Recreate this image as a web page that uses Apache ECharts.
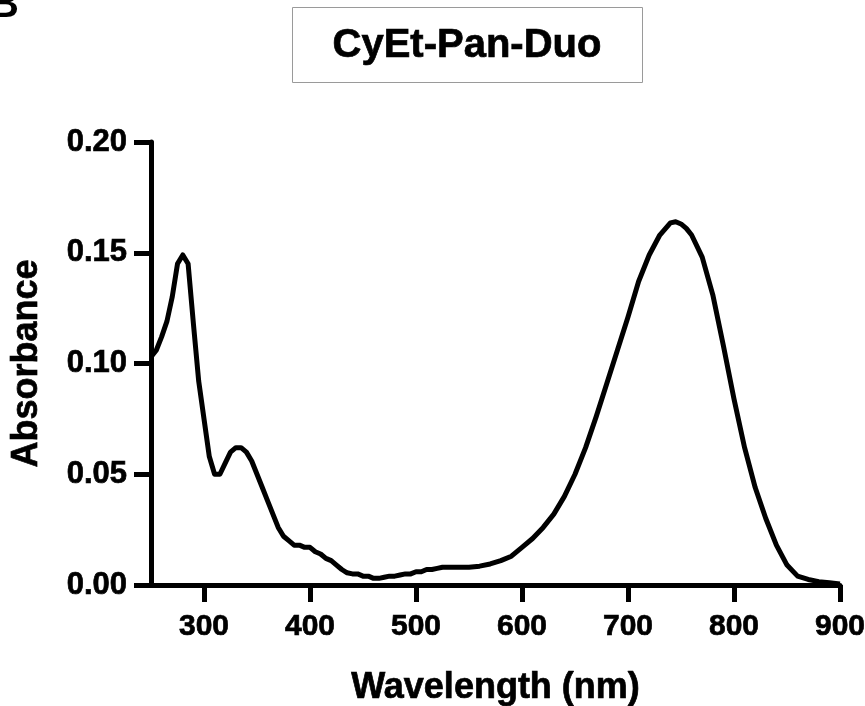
<!DOCTYPE html>
<html>
<head>
<meta charset="utf-8">
<script src="https://cdn.jsdelivr.net/npm/echarts@6/dist/echarts.min.js"></script>
<style>html,body{margin:0;padding:0;background:#fff}#c{width:865px;height:706px}</style>
</head>
<body>
<div id="c"></div>
<script>
const wavelengths = [250,255,260,265,270,275,280,285,290,295,300,305,310,315,320,325,330,335,340,345,350,355,360,365,370,375,380,385,390,395,400,405,410,415,420,425,430,435,440,445,450,455,460,465,470,475,480,485,490,495,500,505,510,515,520,525,530,540,550,560,570,580,590,600,610,620,630,640,650,660,670,680,690,700,710,720,730,740,745,750,755,760,770,780,790,800,810,820,830,840,850,860,870,880,890,900];
const absorbance = [0.103,0.106,0.112,0.119,0.130,0.145,0.149,0.145,0.118,0.092,0.075,0.058,0.050,0.050,0.055,0.060,0.062,0.062,0.060,0.056,0.050,0.044,0.038,0.032,0.026,0.022,0.020,0.018,0.018,0.017,0.017,0.015,0.014,0.012,0.011,0.009,0.007,0.0055,0.005,0.005,0.004,0.004,0.003,0.003,0.0035,0.004,0.004,0.0045,0.005,0.005,0.006,0.006,0.007,0.007,0.0075,0.008,0.008,0.008,0.008,0.0085,0.0095,0.011,0.013,0.017,0.021,0.026,0.032,0.040,0.050,0.062,0.076,0.091,0.106,0.121,0.137,0.149,0.158,0.1635,0.164,0.163,0.161,0.158,0.148,0.131,0.108,0.084,0.062,0.044,0.030,0.018,0.009,0.004,0.0025,0.0015,0.001,0.0005];
const xTicks = [300,400,500,600,700,800,900];
const yTicks = [0,0.05,0.10,0.15,0.20];
const titleText = 'CyEt-Pan-Duo';
const xTitle = 'Wavelength (nm)';
const yTitle = 'Absorbance';
const panelLabel = 'B';

const FONT = 'Liberation Sans, Arial, sans-serif';
const chart = echarts.init(document.getElementById('c'), null, {renderer: 'canvas'});
const heavy = {textBorderColor: '#000', textBorderWidth: 0.7};
chart.setOption({
  animation: false,
  backgroundColor: '#fff',
  grid: {left: 151, right: 25, top: 142, bottom: 121, containLabel: false, outerBoundsMode: 'none'},
  xAxis: {
    type: 'value', min: 250, max: 900,
    axisLine: {show: true, onZero: false, lineStyle: {color: '#000', width: 5}},
    axisTick: {show: true, length: 17, inside: false, lineStyle: {color: '#000', width: 5}, customValues: xTicks},
    axisLabel: Object.assign({customValues: xTicks, color: '#000', fontFamily: FONT, fontWeight: 'bold', fontSize: 30, margin: 27}, heavy),
    splitLine: {show: false},
    name: xTitle, nameLocation: 'middle', nameGap: 85,
    nameTextStyle: Object.assign({color: '#000', fontFamily: FONT, fontWeight: 'bold', fontSize: 36}, heavy)
  },
  yAxis: {
    type: 'value', min: 0, max: 0.2, interval: 0.05,
    axisLine: {show: true, onZero: false, lineStyle: {color: '#000', width: 5}},
    axisTick: {show: true, length: 17, lineStyle: {color: '#000', width: 5}, customValues: yTicks},
    axisLabel: Object.assign({customValues: yTicks, color: '#000', fontFamily: FONT, fontWeight: 'bold', fontSize: 31, margin: 24,
      formatter: v => v.toFixed(2)}, heavy),
    splitLine: {show: false},
    name: yTitle, nameLocation: 'middle', nameGap: 106, nameRotate: 90,
    nameTextStyle: Object.assign({color: '#000', fontFamily: FONT, fontWeight: 'bold', fontSize: 36}, heavy)
  },
  series: [{
    type: 'line',
    data: wavelengths.map((w, i) => [w, absorbance[i]]),
    showSymbol: false, smooth: false, clip: false,
    lineStyle: {color: '#000', width: 5, join: 'round'}
  }],
  graphic: [
    {type: 'rect', shape: {x: 292.5, y: 7.5, width: 350, height: 75}, style: {fill: '#fff', stroke: '#9a9a9a', lineWidth: 1}},
    {type: 'text', x: 467, y: 46, style: {text: titleText, fill: '#000', font: 'bold 40px ' + FONT, align: 'center', verticalAlign: 'middle', stroke: '#000', lineWidth: 0.7}},
    {type: 'text', x: -10, y: 26, style: {text: panelLabel, fill: '#000', font: 'bold 40px ' + FONT, align: 'left', verticalAlign: 'bottom'}}
  ]
});
</script>
</body>
</html>
